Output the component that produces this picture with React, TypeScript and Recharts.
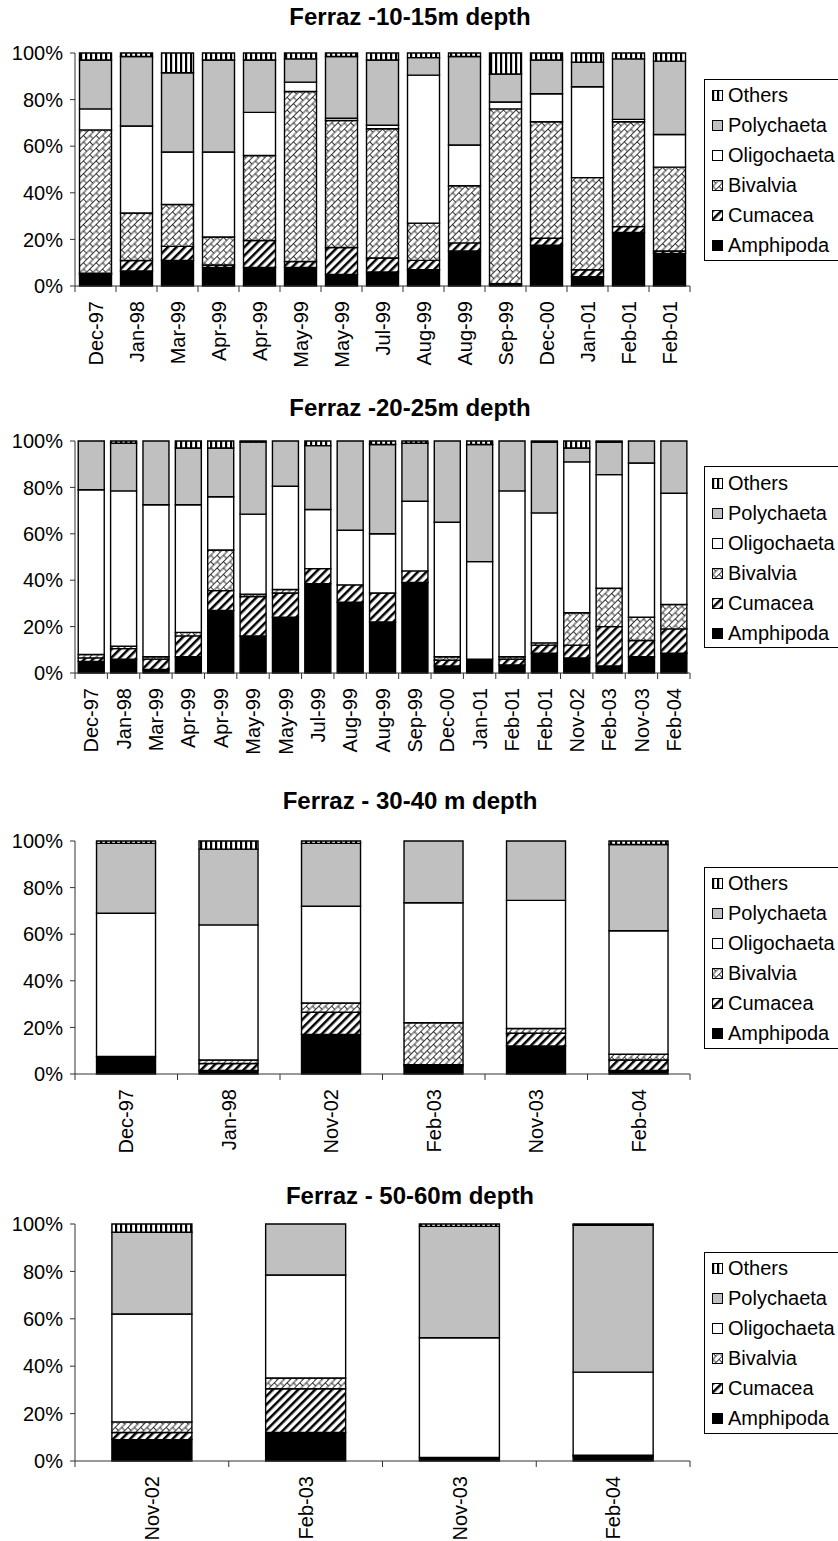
import { BarChart, Bar, XAxis, YAxis } from "recharts";

// Ferraz -10-15m depth
const dates10 = ["Dec-97", "Jan-98", "Mar-99", "Apr-99", "Apr-99", "May-99", "May-99", "Jul-99", "Aug-99", "Aug-99", "Sep-99", "Dec-00", "Jan-01", "Feb-01", "Feb-01"];
const amph10 = [5, 6.5, 11, 8, 8, 8, 5, 6, 7, 15, 0.5, 17.5, 4, 23, 14];
const cum10 = [0.5, 4.5, 6, 1, 11.5, 2.5, 11.5, 6, 4, 3.5, 0.5, 3, 3, 2.5, 1];
const biv10 = [61.5, 20.5, 18, 12, 36.5, 73, 54.5, 55.5, 16, 24.5, 75, 50, 39.5, 45, 36];
const olig10 = [9, 37.5, 22.5, 36.5, 18.5, 4, 1, 1.5, 63.5, 17.5, 3, 12, 39, 1, 14];
const poly10 = [21, 30, 34, 39.5, 22.5, 10, 26.5, 28, 7.5, 38, 12, 14.5, 10.5, 26, 31.5];
const oth10 = [3, 1.5, 8.5, 3, 3, 2.5, 1.5, 3, 2, 1.5, 9, 3, 4, 2.5, 3.5];

// Ferraz -20-25m depth
const dates20 = ["Dec-97", "Jan-98", "Mar-99", "Apr-99", "Apr-99", "May-99", "May-99", "Jul-99", "Aug-99", "Aug-99", "Sep-99", "Dec-00", "Jan-01", "Feb-01", "Feb-01", "Nov-02", "Feb-03", "Nov-03", "Feb-04"];
const amph20 = [5, 6, 1.5, 7, 27, 16, 24, 38.5, 30.5, 22, 39, 3, 6, 3.5, 8.5, 6.5, 3, 7, 8.5];
const cum20 = [1.5, 4.5, 4.5, 9, 8.5, 17, 10.5, 6.5, 7.5, 12.5, 5, 2.5, 0, 2.5, 3.5, 5.5, 17, 7, 10.5];
const biv20 = [1.5, 1, 1, 1.5, 17.5, 1, 1.5, 0, 0, 0, 0, 1.5, 0, 1, 1, 14, 16.5, 10, 10.5];
const olig20 = [71, 67, 65.5, 55, 23, 34.5, 44.5, 25.5, 23.5, 25.5, 30, 58, 42, 71.5, 56, 65, 49, 66.5, 48];
const poly20 = [21, 20.5, 27.5, 24.5, 21, 31, 19.5, 27.5, 38.5, 38.5, 25, 35, 50.5, 21.5, 30.5, 6, 14, 9.5, 22.5];
const oth20 = [0, 1, 0, 3, 3, 0.5, 0, 2, 0, 1.5, 1, 0, 1.5, 0, 0.5, 3, 0.5, 0, 0];

// Ferraz - 30-40 m depth
const dates30 = ["Dec-97", "Jan-98", "Nov-02", "Feb-03", "Nov-03", "Feb-04"];
const amph30 = [7.5, 1.5, 17, 3.5, 12, 1.5];
const cum30 = [0, 3, 9.5, 0.5, 5.5, 4.5];
const biv30 = [0, 1.5, 4, 18, 2, 2.5];
const olig30 = [61.5, 58, 41.5, 51.5, 55, 53];
const poly30 = [30, 32.5, 27, 26.5, 25.5, 37];
const oth30 = [1, 3.5, 1, 0, 0, 1.5];

// Ferraz - 50-60m depth
const dates50 = ["Nov-02", "Feb-03", "Nov-03", "Feb-04"];
const amph50 = [9, 12, 1.5, 2];
const cum50 = [3, 18.5, 0, 0];
const biv50 = [4.5, 4.5, 0, 0.5];
const olig50 = [45.5, 43.5, 50.5, 35];
const poly50 = [34.5, 21.5, 47, 62];
const oth50 = [3.5, 0, 1, 0.5];

const yTicks = [0, 0.2, 0.4, 0.6, 0.8, 1];

const FONT = "'Liberation Sans', Arial, sans-serif";
const PLOT_LEFT = 75;
const PLOT_RIGHT = 690;

// bottom to top of each stack
const taxa = [
  { key: "Amphipoda", fill: "#000" },
  { key: "Cumacea", fill: "url(#pat-cum)" },
  { key: "Bivalvia", fill: "url(#pat-biv)" },
  { key: "Oligochaeta", fill: "#fff" },
  { key: "Polychaeta", fill: "#c0c0c0" },
  { key: "Others", fill: "url(#pat-oth)" },
];

function buildRows(dates: string[], series: number[][]) {
  return dates.map((date, i) => {
    const row: any = { date };
    taxa.forEach((t, j) => {
      row[t.key] = series[j][i];
    });
    return row;
  });
}

const charts = [
  {
    title: "Ferraz -10-15m depth",
    rows: buildRows(dates10, [amph10, cum10, biv10, olig10, poly10, oth10]),
    top: 40, titleTop: 3, plotH: 233, axisH: 92, gap: "11%",
  },
  {
    title: "Ferraz -20-25m depth",
    rows: buildRows(dates20, [amph20, cum20, biv20, olig20, poly20, oth20]),
    top: 428, titleTop: 394, plotH: 232, axisH: 92, gap: "10%",
  },
  {
    title: "Ferraz - 30-40 m depth",
    rows: buildRows(dates30, [amph30, cum30, biv30, olig30, poly30, oth30]),
    top: 828, titleTop: 787, plotH: 233, axisH: 92, gap: "21%",
  },
  {
    title: "Ferraz - 50-60m depth",
    rows: buildRows(dates50, [amph50, cum50, biv50, olig50, poly50, oth50]),
    top: 1211, titleTop: 1182, plotH: 237, axisH: 80, gap: "24%",
  },
];

function DateTick(props: any) {
  const { x, y, payload, index, step, count } = props;
  return (
    <g>
      <line x1={x - step / 2} x2={x - step / 2} y1={y} y2={y + 6} stroke="#333" />
      {index === count - 1 && <line x1={x + step / 2} x2={x + step / 2} y1={y} y2={y + 6} stroke="#333" />}
      <text
        transform={`translate(${x},${y + 15}) rotate(-90)`}
        textAnchor="end"
        dy="0.36em"
        fontSize={20}
        fontFamily={FONT}
        fill="#000"
      >
        {payload.value}
      </text>
    </g>
  );
}

function LegendBox({ top }: { top: number }) {
  const items = [...taxa].reverse();
  return (
    <div
      style={{
        position: "absolute",
        left: 704,
        top,
        width: 150,
        height: 182,
        border: "1px solid #000",
        background: "#fff",
        boxSizing: "border-box",
        paddingTop: 1,
        fontFamily: FONT,
        fontSize: 20,
      }}
    >
      {items.map((t) => (
        <div key={t.key} style={{ height: 30, display: "flex", alignItems: "center" }}>
          <svg width={11} height={11} style={{ marginLeft: 7, marginRight: 5 }}>
            <rect x={0.5} y={0.5} width={10} height={10} fill={t.fill} stroke="#000" />
          </svg>
          <span>{t.key}</span>
        </div>
      ))}
    </div>
  );
}

function StackChart({ chart }: { chart: any }) {
  const n = chart.rows.length;
  const step = (PLOT_RIGHT - PLOT_LEFT) / n;
  const height = 13 + chart.plotH + chart.axisH;
  return (
    <>
      <div
        style={{
          position: "absolute",
          left: 0,
          width: 820,
          top: chart.titleTop,
          textAlign: "center",
          fontFamily: FONT,
          fontWeight: "bold",
          fontSize: 24,
        }}
      >
        {chart.title}
      </div>
      <div style={{ position: "absolute", left: 0, top: chart.top }}>
        <BarChart
          width={838}
          height={height}
          data={chart.rows}
          stackOffset="expand"
          barCategoryGap={chart.gap}
          margin={{ top: 13, right: 838 - PLOT_RIGHT, left: 0, bottom: 0 }}
        >
          <XAxis
            dataKey="date"
            height={chart.axisH}
            interval={0}
            tickLine={false}
            tickSize={0}
            tickMargin={0}
            axisLine={{ stroke: "#333" }}
            tick={(p: any) => <DateTick {...p} step={step} count={n} />}
          />
          <XAxis xAxisId="top" dataKey="date" orientation="top" height={0} tick={false} tickLine={false} axisLine={{ stroke: "#aaa" }} />
          <YAxis
            yAxisId="left"
            width={PLOT_LEFT}
            domain={[0, 1]}
            ticks={yTicks}
            tickSize={5}
            tickMargin={7}
            tickLine={{ stroke: "#333" }}
            axisLine={{ stroke: "#333" }}
            tick={{ fontSize: 20, fontFamily: FONT, fill: "#000" }}
            tickFormatter={(v: number) => `${Math.round(v * 100)}%`}
          />
          <YAxis yAxisId="right" orientation="right" width={0} tick={false} tickLine={false} axisLine={{ stroke: "#aaa" }} />
          {taxa.map((t) => (
            <Bar
              key={t.key}
              dataKey={t.key}
              stackId="a"
              yAxisId="left"
              fill={t.fill}
              stroke="#000"
              strokeWidth={1.4}
              isAnimationActive={false}
            />
          ))}
        </BarChart>
      </div>
      <LegendBox top={chart.top + 13 + chart.plotH / 2 - 91} />
    </>
  );
}

export default function App() {
  return (
    <div
      style={{
        position: "absolute",
        left: 0,
        top: 0,
        width: 838,
        height: 1541,
        overflow: "hidden",
        background: "#fff",
      }}
    >
      <svg width={0} height={0} style={{ position: "absolute" }}>
        <defs>
          <pattern id="pat-oth" width={5} height={5} patternUnits="userSpaceOnUse">
            <rect width={5} height={5} fill="#fff" />
            <rect width={2.2} height={5} fill="#000" />
          </pattern>
          <pattern id="pat-cum" width={6} height={6} patternUnits="userSpaceOnUse" patternTransform="rotate(45)">
            <rect width={6} height={6} fill="#fff" />
            <rect width={2.5} height={6} fill="#000" />
          </pattern>
          <pattern id="pat-biv" width={9} height={9} patternUnits="userSpaceOnUse" patternTransform="rotate(-45)">
            <rect width={9} height={9} fill="#fff" />
            <path d="M0 0.5H9M0 5H9M0.5 0.5V5M5 5V9.5" stroke="#000" strokeWidth={0.8} fill="none" />
          </pattern>
        </defs>
      </svg>
      {charts.map((c) => (
        <StackChart key={c.title} chart={c} />
      ))}
    </div>
  );
}
